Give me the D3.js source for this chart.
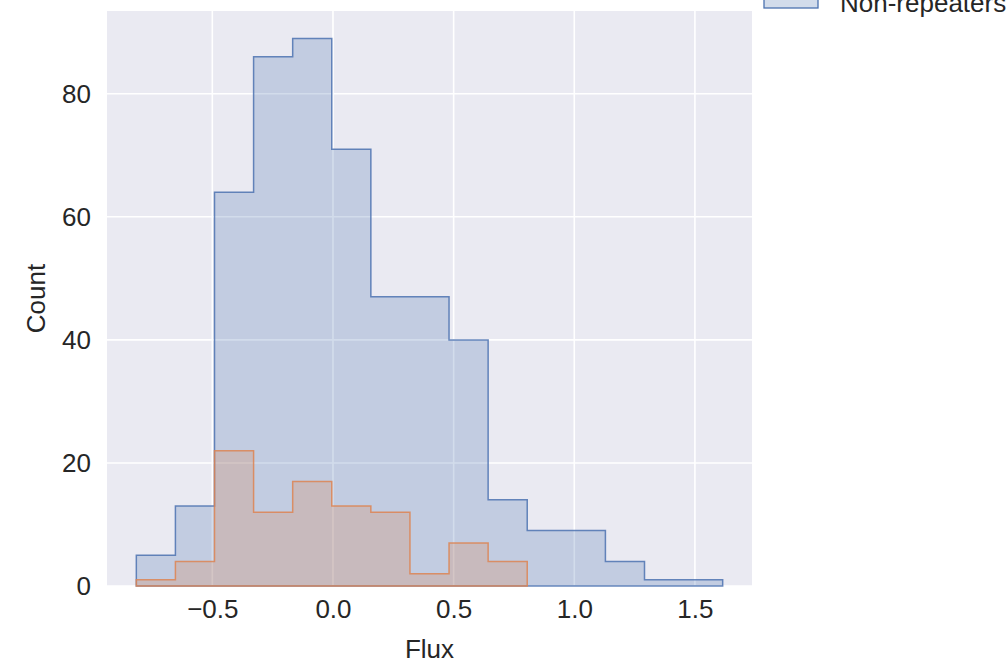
<!DOCTYPE html>
<html>
<head>
<meta charset="utf-8">
<script src="https://cdn.jsdelivr.net/npm/d3@7"></script>
<style>
  body { margin: 0; background: #fff; }
  svg { display: block; font-family: "Liberation Sans", Arial, sans-serif; }
</style>
</head>
<body>
<svg id="chart" width="1006" height="671"></svg>
<script>
// histogram bins shared by both groups
const binEdges = [-0.815, -0.653, -0.491, -0.329, -0.167, -0.005, 0.157, 0.319,
                  0.481, 0.643, 0.805, 0.967, 1.129, 1.291, 1.453, 1.615];
const nonRepeaterCounts = [5, 13, 64, 86, 89, 71, 47, 47, 40, 14, 9, 9, 4, 1, 1];
const repeaterCounts = [1, 4, 22, 12, 17, 13, 12, 2, 7, 4];
const xTicks = [-0.5, 0.0, 0.5, 1.0, 1.5];
const yTicks = [0, 20, 40, 60, 80];

const blue = "#4C72B0", orange = "#DD8452";

const svg = d3.select("#chart");
const margin = { left: 107, right: 254, top: 11, bottom: 85 };
const width = 1006 - margin.left - margin.right;
const height = 671 - margin.top - margin.bottom;

// matplotlib-style 5% padding on x, 5% headroom on y
const lo = binEdges[0], hi = binEdges[binEdges.length - 1];
const pad = (hi - lo) * 0.05;
const x = d3.scaleLinear().domain([lo - pad, hi + pad]).range([0, width]);
const yMax = d3.max(nonRepeaterCounts) * 1.05;
const y = d3.scaleLinear().domain([0, yMax]).range([height, 0]);

const g = svg.append("g").attr("transform", `translate(${margin.left},${margin.top})`);

g.append("rect").attr("width", width).attr("height", height).attr("fill", "#EAEAF2");

// grid
g.selectAll(".vgrid").data(xTicks).enter().append("line")
  .attr("x1", d => x(d)).attr("x2", d => x(d))
  .attr("y1", 0).attr("y2", height)
  .attr("stroke", "#fff").attr("stroke-width", 1.6);
g.selectAll(".hgrid").data(yTicks).enter().append("line")
  .attr("y1", d => y(d)).attr("y2", d => y(d))
  .attr("x1", 0).attr("x2", width)
  .attr("stroke", "#fff").attr("stroke-width", 1.6);

function stepPath(counts) {
  const pts = [[binEdges[0], 0]];
  counts.forEach((c, i) => {
    pts.push([binEdges[i], c]);
    pts.push([binEdges[i + 1], c]);
  });
  pts.push([binEdges[counts.length], 0]);
  return d3.line().x(d => x(d[0])).y(d => y(d[1]))(pts) + "Z";
}

[[nonRepeaterCounts, blue], [repeaterCounts, orange]].forEach(([counts, col]) => {
  g.append("path")
    .attr("d", stepPath(counts))
    .attr("fill", col).attr("fill-opacity", 0.25)
    .attr("stroke", col).attr("stroke-opacity", 0.85).attr("stroke-width", 1.5)
    .attr("stroke-linejoin", "miter");
});

// axes (no tick marks, seaborn darkgrid look)
const xAxis = g.append("g").attr("transform", `translate(0,${height})`)
  .call(d3.axisBottom(x).tickValues(xTicks).tickSize(0).tickPadding(14)
    .tickFormat(d => d3.format(".1f")(d).replace("-", "\u2212")));
const yAxis = g.append("g")
  .call(d3.axisLeft(y).tickValues(yTicks).tickSize(0).tickPadding(16));
[xAxis, yAxis].forEach(a => {
  a.select(".domain").remove();
  a.selectAll("text").attr("font-size", 26).attr("fill", "#262626")
    .attr("font-family", "Liberation Sans, Arial, sans-serif");
});

g.append("text")
  .attr("x", width / 2).attr("y", height + 72)
  .attr("text-anchor", "middle").attr("font-size", 26).attr("fill", "#262626")
  .text("Flux");
g.append("text")
  .attr("transform", `translate(${-62},${height / 2}) rotate(-90)`)
  .attr("text-anchor", "middle").attr("font-size", 26).attr("fill", "#262626")
  .text("Count");

// legend, placed outside the axes
const leg = svg.append("g").attr("transform", "translate(764,-10)");
leg.append("rect").attr("width", 54).attr("height", 18)
  .attr("fill", blue).attr("fill-opacity", 0.25)
  .attr("stroke", blue).attr("stroke-width", 1.3);
leg.append("text").attr("x", 76).attr("y", 22)
  .attr("font-size", 26).attr("fill", "#262626")
  .text("Non-repeaters");
</script>
</body>
</html>
